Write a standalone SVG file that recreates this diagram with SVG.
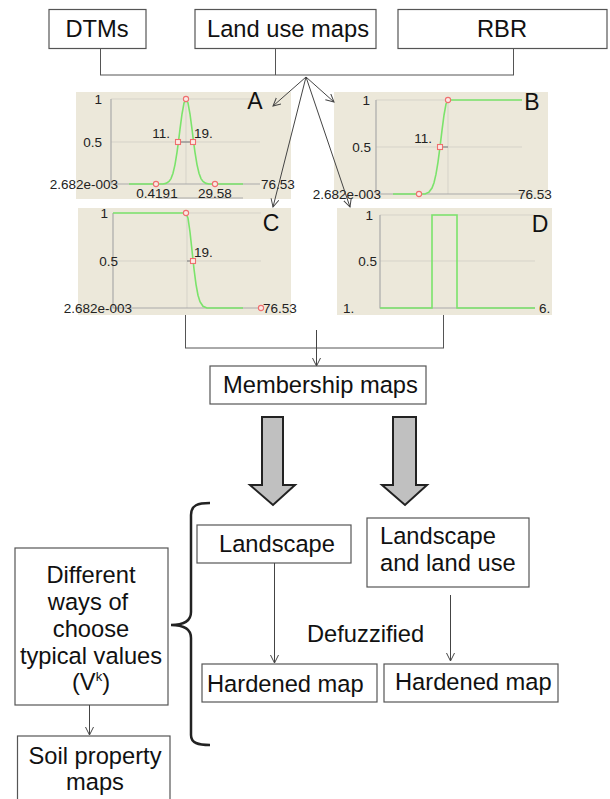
<svg xmlns="http://www.w3.org/2000/svg" width="610" height="799" viewBox="0 0 610 799">
  <defs>
    <marker id="open" markerUnits="userSpaceOnUse" markerWidth="10" markerHeight="10" refX="8" refY="4" orient="auto">
      <path d="M0,0 L8,4 L0,8" fill="none" stroke="#444" stroke-width="1"/>
    </marker>
    <style>
      .box { fill: #fff; stroke: #555; stroke-width: 1.2; }
      .lbl { font-family: "Liberation Sans", Arial, sans-serif; font-size: 23.7px; fill: #111; }
      .conn { fill: none; stroke: #555; stroke-width: 1; }
      .arr { fill: none; stroke: #444; stroke-width: 1; marker-end: url(#open); }
      .panel { fill: #ece8da; }
      .grid { stroke: #d6d3c9; stroke-width: 1; fill: none; }
      .axis { stroke: #aaa; stroke-width: 1.2; fill: none; }
      .curve { stroke: #7be36b; stroke-width: 1.6; fill: none; }
      .pt { fill: #fbe9e4; stroke: #ef6f6f; stroke-width: 1.1; }
      .tick { font-family: "Liberation Sans", Arial, sans-serif; font-size: 13.5px; fill: #222; }
      .tag { font-family: "Liberation Sans", Arial, sans-serif; font-size: 23px; fill: #111; }
      .block { fill: #c0c0c0; stroke: #222; stroke-width: 2; stroke-linejoin: miter; }
    </style>
  </defs>

  <!-- input layers -->
  <g id="dtms">
    <rect class="box" x="49" y="9.5" width="97" height="39"/>
    <text class="lbl" x="97" y="37" text-anchor="middle">DTMs</text>
  </g>
  <g id="land-use-maps">
    <rect class="box" x="195" y="9.5" width="181" height="39"/>
    <text class="lbl" x="288" y="37" text-anchor="middle">Land use maps</text>
  </g>
  <g id="rbr">
    <rect class="box" x="398" y="9.5" width="209" height="39"/>
    <text class="lbl" x="502" y="37" text-anchor="middle">RBR</text>
  </g>

  <!-- membership function A -->
  <g id="chart-a">
    <rect class="panel" x="76" y="92" width="215" height="107"/>
    <path class="grid" d="M111,99 H260 M111,142 H260 M186,99 V184"/>
    <path class="axis" d="M111,99 V184 H260"/>
    <path class="axis" d="M158,198 H243"/>
    <path d="M178,142 H193" stroke="#888" stroke-width="1.2"/>
    <path class="curve" d="M129,184 L163,184 L166,183.4 L169,181.5 L171,178.6 L173,173.2 L175,164.6 L177,152.4 L178.5,141.3 L180,129.2 L182,114 L184,103.1 L186,99 L188,103.1 L190,114 L192,129.2 L193.5,141.3 L195,152.4 L197,164.6 L199,173.2 L201,178.6 L203,181.5 L206,183.4 L209,184 L243,184"/>
    <circle class="pt" cx="186" cy="99" r="2.6"/>
    <rect class="pt" x="175.5" y="139.5" width="5" height="5"/>
    <rect class="pt" x="190.5" y="139.5" width="5" height="5"/>
    <circle class="pt" cx="156" cy="184" r="2.6"/>
    <circle class="pt" cx="215" cy="184" r="2.6"/>
    <text class="tick" x="102" y="104" text-anchor="end">1</text>
    <text class="tick" x="102" y="147" text-anchor="end">0.5</text>
    <text class="tick" x="118" y="189" text-anchor="end">2.682e-003</text>
    <text class="tick" x="261" y="189">76.53</text>
    <text class="tick" x="157" y="198" text-anchor="middle">0.4191</text>
    <text class="tick" x="215" y="198" text-anchor="middle">29.58</text>
    <text class="tick" x="170" y="138" text-anchor="end">11.</text>
    <text class="tick" x="194" y="138">19.</text>
    <text class="tag" x="255" y="109" text-anchor="middle">A</text>
  </g>

  <!-- membership function B -->
  <g id="chart-b">
    <rect class="panel" x="334" y="92" width="214" height="107"/>
    <path class="grid" d="M376,100 H522 M376,147 H522 M448,100 V194"/>
    <path class="axis" d="M376,100 V194 H522"/>
    <path d="M440,147 H448" stroke="#888" stroke-width="1.2"/>
    <path class="curve" d="M393,194 L425,194 L429,192.1 L432,188.1 L434,182.7 L436,174.2 L438,162.1 L440,146.9 L442,130.3 L444,115 L446,104 L448,100 L522,100"/>
    <circle class="pt" cx="419" cy="194" r="2.6"/>
    <rect class="pt" x="437.5" y="144.5" width="5" height="5"/>
    <circle class="pt" cx="448" cy="100" r="2.6"/>
    <text class="tick" x="370" y="105" text-anchor="end">1</text>
    <text class="tick" x="371" y="152" text-anchor="end">0.5</text>
    <text class="tick" x="381" y="199" text-anchor="end">2.682e-003</text>
    <text class="tick" x="518" y="199">76.53</text>
    <text class="tick" x="432" y="143" text-anchor="end">11.</text>
    <text class="tag" x="532" y="110" text-anchor="middle">B</text>
  </g>

  <!-- membership function C -->
  <g id="chart-c">
    <rect class="panel" x="78" y="208" width="213" height="107"/>
    <path class="grid" d="M113,213 H261 M113,261 H261 M187,213 V308"/>
    <path class="axis" d="M113,213 V308 H261"/>
    <path d="M187,261 H193" stroke="#888" stroke-width="1.2"/>
    <path class="curve" d="M113,213 L186,213 L188,218.1 L190,232 L192,250.4 L193,259.9 L194,269 L196,284.3 L198,295.2 L200,301.7 L203,306.3 L207,308 L243,308"/>
    <circle class="pt" cx="186" cy="213" r="2.6"/>
    <rect class="pt" x="190.5" y="258.5" width="5" height="5"/>
    <circle class="pt" cx="261" cy="308" r="2.6"/>
    <text class="tick" x="108" y="218" text-anchor="end">1</text>
    <text class="tick" x="118" y="266" text-anchor="end">0.5</text>
    <text class="tick" x="132" y="313" text-anchor="end">2.682e-003</text>
    <text class="tick" x="263" y="313">76.53</text>
    <text class="tick" x="194" y="257">19.</text>
    <text class="tag" x="271" y="231" text-anchor="middle">C</text>
  </g>

  <!-- membership function D -->
  <g id="chart-d">
    <rect class="panel" x="337" y="208" width="215" height="107"/>
    <path class="grid" d="M380,215 H535 M380,261 H535"/>
    <path class="axis" d="M380,215 V308 H535"/>
    <path class="curve" d="M380,308 L432,308 L432,215 L457,215 L457,308 L535,308"/>
    <text class="tick" x="373" y="220" text-anchor="end">1</text>
    <text class="tick" x="377" y="266" text-anchor="end">0.5</text>
    <text class="tick" x="343" y="313">1.</text>
    <text class="tick" x="539" y="313">6.</text>
    <text class="tag" x="540" y="232" text-anchor="middle">D</text>
  </g>

  <!-- membership maps -->
  <g id="membership-maps">
    <rect class="box" x="210" y="366" width="216" height="38"/>
    <text class="lbl" x="223" y="393">Membership maps</text>
  </g>

  <!-- broad arrows -->
  <g id="to-landscape-flow">
    <path class="block" d="M262,417 H283 V485 H295 L273,505 L250,485 H262 Z"/>
  </g>
  <g id="to-landuse-flow">
    <path class="block" d="M393,417 H416 V485 H427 L405,505 L382,485 H393 Z"/>
  </g>

  <!-- brace grouping the defuzzification branches -->
  <g id="brace">
    <path d="M210,503 C198,503 191,505 191,515 L191,612 C191,620 185,625 171,625 C185,625 191,630 191,638 L191,735 C191,743 198,745 210,745" fill="none" stroke="#222" stroke-width="2.5"/>
  </g>

  <g id="landscape">
    <rect class="box" x="197" y="525" width="154" height="38"/>
    <text class="lbl" x="219" y="552">Landscape</text>
  </g>
  <g id="landscape-land-use">
    <rect class="box" x="367" y="518" width="162" height="69"/>
    <text class="lbl" x="380" y="544">Landscape</text>
    <text class="lbl" x="380" y="571">and land use</text>
  </g>
  <g id="defuzzified">
    <text class="lbl" x="307" y="642">Defuzzified</text>
  </g>
  <g id="hardened-map-1">
    <rect class="box" x="202" y="664" width="175" height="38"/>
    <text class="lbl" x="207" y="692">Hardened map</text>
  </g>
  <g id="hardened-map-2">
    <rect class="box" x="384" y="664" width="174" height="38"/>
    <text class="lbl" x="395" y="690">Hardened map</text>
  </g>

  <g id="typical-values">
    <rect class="box" x="15" y="548" width="153" height="157"/>
    <text class="lbl" x="91" y="583" text-anchor="middle">Different</text>
    <text class="lbl" x="88" y="610" text-anchor="middle">ways of</text>
    <text class="lbl" x="91" y="637" text-anchor="middle">choose</text>
    <text class="lbl" x="91" y="664" text-anchor="middle">typical values</text>
    <text class="lbl" x="91" y="690" text-anchor="middle">(V<tspan font-size="13" dy="-9">k</tspan><tspan dy="9">)</tspan></text>
  </g>
  <g id="soil-property-maps">
    <rect class="box" x="17.5" y="736" width="152.5" height="80"/>
    <text class="lbl" x="95" y="764" text-anchor="middle">Soil property</text>
    <text class="lbl" x="95" y="790" text-anchor="middle">maps</text>
  </g>

  <!-- connectors -->
  <g id="connectors">
    <path class="conn" d="M100.5,49 V75 M275.5,49 V75 M513.5,49 V75 M100,75 H514"/>
    <path class="arr" d="M306,77 L273,106"/>
    <path class="arr" d="M306,77 L334,102"/>
    <path class="arr" d="M306,77 L273,207"/>
    <path class="arr" d="M306,77 L350,207"/>
    <path class="conn" d="M185.5,315 V348 M443.5,315 V348 M185,348 H444"/>
    <path class="arr" d="M316.5,330 V366"/>
    <path class="arr" d="M274.5,563 V663"/>
    <path class="arr" d="M450.5,595 V661"/>
    <path class="arr" d="M89.5,705 V735"/>
  </g>
</svg>
